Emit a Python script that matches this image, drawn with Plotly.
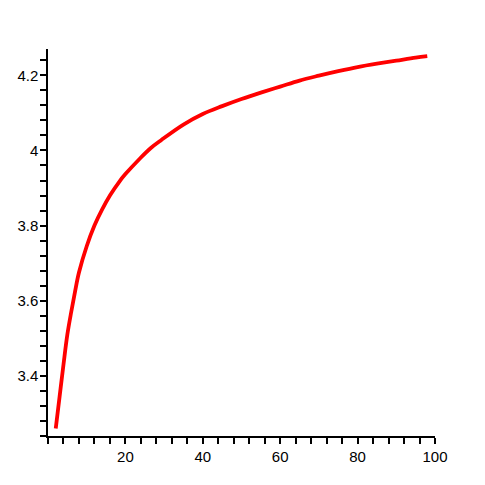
import plotly.graph_objects as go

# Values
x_vals = [2, 3, 4, 5, 6, 7, 8, 10, 12, 14, 16, 18.5, 20, 23.7, 26.5, 29.3, 35, 40,
          45, 50, 55, 60, 65, 70, 75, 80, 85, 90, 95, 98]
y_vals = [3.26, 3.345, 3.43, 3.51, 3.57, 3.625, 3.675, 3.745, 3.80, 3.843, 3.88,
          3.918, 3.937, 3.978, 4.006, 4.028, 4.069, 4.097, 4.118, 4.137, 4.154, 4.170,
          4.186, 4.199, 4.211, 4.222, 4.231, 4.239, 4.247, 4.251]

x_tickvals = [20, 40, 60, 80, 100]
x_ticktext = ["20", "40", "60", "80", "100"]
y_tickvals = [3.4, 3.6, 3.8, 4.0, 4.2]
y_ticktext = ["3.4", "3.6", "3.8", "4", "4.2"]

fig = go.Figure()
fig.add_trace(go.Scatter(x=x_vals, y=y_vals, mode="lines",
                         line=dict(color="#ff0000", width=3.8, shape="spline", smoothing=1.0),
                         showlegend=False))

font = dict(family="Liberation Sans, Arial, sans-serif", size=15, color="black")

fig.update_layout(
    width=485, height=485,
    margin=dict(l=40, r=58, t=41, b=57),
    paper_bgcolor="white", plot_bgcolor="white",
    font=font,
    xaxis=dict(range=[0, 100], showgrid=False, zeroline=False, showline=True,
               automargin=False,
               linecolor="black", linewidth=1.5,
               tickmode="array", tickvals=x_tickvals, ticktext=x_ticktext,
               ticks="outside", ticklen=6, tickcolor="black", tickwidth=1.5,
               minor=dict(tickmode="linear", tick0=0, dtick=4, ticks="outside",
                          ticklen=6, tickcolor="black", tickwidth=1.5, showgrid=False)),
    yaxis=dict(range=[3.24, 4.27], showgrid=False, zeroline=False, showline=True,
               automargin=False, ticklabelstandoff=-1,
               linecolor="black", linewidth=1.5,
               tickmode="array", tickvals=y_tickvals, ticktext=y_ticktext,
               ticks="outside", ticklen=6, tickcolor="black", tickwidth=1.5,
               minor=dict(tickmode="linear", tick0=3.24, dtick=0.04, ticks="outside",
                          ticklen=6, tickcolor="black", tickwidth=1.5, showgrid=False)),
)

fig.write_html("out.html")
